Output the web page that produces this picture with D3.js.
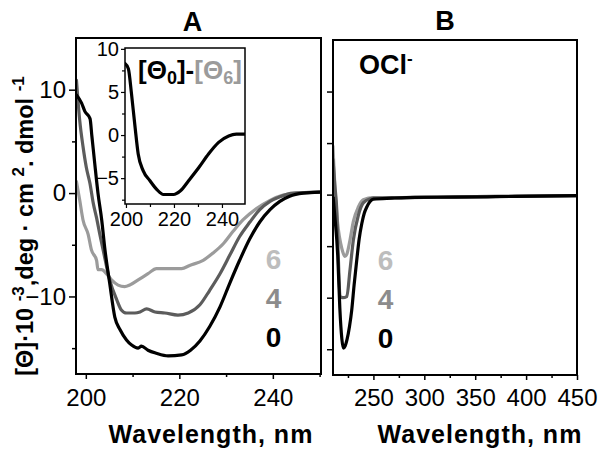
<!DOCTYPE html>
<html>
<head>
<meta charset="utf-8">
<script src="https://cdn.jsdelivr.net/npm/d3@7"></script>
<style>
  html, body { margin: 0; padding: 0; background: #fff; }
  svg { display: block; }
  text { font-family: "Liberation Sans", Arial, Helvetica, sans-serif; }
</style>
</head>
<body>
<svg id="chart" width="604" height="458"></svg>
<script>
// ---------- DATA ----------
// Panel A : CD spectra (x = wavelength nm, y = [Θ]·10^-3)
const seriesNames = ["6", "4", "0"];
const a6_wl  = [198, 198.7, 199.4, 200.5, 201.2, 202.3, 202.6, 203.4, 204.4, 205.5, 206.9, 208.3, 209.4, 211.2, 213.3, 215.1, 217.6, 220.5, 222.2, 225.1, 227.2, 229.4, 231.5, 233.6, 236.5, 239.4, 242.2, 245, 250];
const a6_val = [1.1, -0.7, -2.6, -4.0, -5.5, -6.5, -7.4, -7.4, -7.8, -8.4, -8.9, -9.05, -8.9, -8.4, -7.8, -7.3, -7.3, -7.3, -7.0, -6.5, -5.8, -4.9, -3.7, -2.6, -1.5, -0.7, -0.2, 0.0, 0.1];
const a4_wl  = [198, 198.7, 199.4, 200.1, 200.9, 201.6, 202.3, 203.0, 203.7, 205.1, 206.6, 207.6, 208.7, 210.5, 211.6, 213.0, 214.8, 216.9, 219.7, 221.9, 224.4, 226.5, 228.7, 230.8, 232.9, 235.1, 237.2, 239.4, 241.5, 244.3, 250];
const a4_val = [10.9, 7.0, 4.5, 2.5, 0.9, -1.0, -2.4, -4.0, -5.5, -8.4, -10.3, -11.3, -11.6, -11.6, -11.5, -11.2, -11.5, -11.6, -11.8, -11.6, -10.8, -9.4, -7.8, -6.0, -4.2, -2.8, -1.6, -0.8, -0.36, 0.0, 0.1];
const a0_wl  = [198, 199.1, 199.8, 200.9, 201.3, 201.9, 202.6, 203.4, 204.1, 205.1, 206.2, 207.3, 208.7, 209.8, 211.2, 211.9, 213.3, 215.1, 217.6, 220.5, 222.4, 224.4, 226.5, 228.7, 230.8, 232.9, 235.1, 237.2, 239.4, 241.5, 243.6, 246.5, 250];
const a0_val = [9.5, 8.7, 7.9, 7.2, 5.5, 2.9, 0.0, -2.6, -5.5, -8.7, -12.0, -13.2, -14.2, -14.7, -15.0, -14.8, -15.2, -15.5, -15.75, -15.65, -15.2, -14.3, -12.9, -11.0, -8.7, -6.5, -4.4, -2.8, -1.6, -0.8, -0.3, 0.0, 0.1];

// Inset : difference spectrum [Θ0]-[Θ6]
const diff_wl  = [199.6, 201, 202.3, 203.8, 205.1, 207.2, 210, 212.8, 215.6, 219.8, 222.6, 226.1, 230.3, 234.4, 238.6, 242.8, 246, 249.6];
const diff_val = [8.3, 7.7, 4.8, 0.9, -2.2, -4.15, -5.3, -6.3, -6.9, -6.9, -6.5, -5.3, -3.8, -2.2, -0.85, -0.1, 0.1, 0.1];

// Panel B : OCl- treated
const b6_wl  = [210.2, 212.3, 215.6, 218, 220, 222, 223.8, 227, 230.3, 235.2, 240, 250, 270, 300, 350, 400, 450];
const b6_val = [4.7, 0.5, -3.4, -4.8, -5.6, -6.0, -5.8, -4.4, -2.6, -1.2, -0.5, -0.3, -0.3, -0.25, -0.2, -0.15, -0.1];
const b4_wl  = [210.3, 212, 214, 215.6, 217.2, 220, 223.8, 227, 230.3, 235.2, 240, 246.8, 250, 270, 300, 350, 400, 450];
const b4_val = [3.4, 1.0, -1.5, -6.3, -9.9, -10.0, -9.9, -7.3, -4.4, -2.0, -0.8, -0.4, -0.35, -0.32, -0.26, -0.2, -0.15, -0.1];
const b0_wl  = [210.5, 212, 215, 217, 219, 220.5, 222.2, 224, 226.5, 228.7, 231, 233.7, 236, 238.6, 241, 243.5, 246.5, 250, 268, 291, 330, 370, 410, 450];
const b0_val = [-0.3, -2.0, -6.0, -11.0, -14.0, -14.9, -14.7, -14.1, -12.8, -11.2, -8.8, -6.3, -4.3, -2.8, -1.8, -1.2, -0.7, -0.44, -0.34, -0.26, -0.25, -0.2, -0.15, -0.1];

// Tick labels
const yTicksMain = [-10, 0, 10];
const yTicksMinor = [-15, -5, 5];
const xTicksA = [200, 220, 240];
const xTicksAMinor = [210, 230, 250];
const xTicksB = [250, 300, 350, 400, 450];
const xTicksBMinor = [225, 275, 325, 375, 425];
const insetYTicks = [-5, 0, 5, 10];
const insetYMinor = [-7.5, -2.5, 2.5, 7.5];
const insetXTicks = [200, 220, 240];
const insetXMinor = [210, 230];

// ---------- STYLES ----------
const colors = { "6": "#9b9b9b", "4": "#5c5c5c", "0": "#000000" };
const labelColors = { "6": "#bdbdbd", "4": "#8c8c8c", "0": "#000000" };

const svg = d3.select("#chart");
const zip = (xs, ys) => xs.map((x, i) => ({ x, y: ys[i] }));

// ---------- SCALES ----------
const A = { l: 76, r: 321, t: 38, b: 374 };
const B = { l: 333, r: 577, t: 40, b: 375 };
const I = { l: 125, r: 245, t: 48, b: 204 };

const xA = d3.scaleLinear().domain([197.9, 250.3]).range([A.l, A.r]);
const yA = d3.scaleLinear().domain([-17.5, 15]).range([A.b, A.t]);
const xB = d3.scaleLinear().domain([210.3, 450]).range([B.l, B.r]);
const yB = d3.scaleLinear().domain([-17.5, 15]).range([B.b, B.t]);
const xI = d3.scaleLinear().domain([199.6, 249.6]).range([I.l, I.r]);
const yI = d3.scaleLinear().domain([-8, 10.1]).range([I.b, I.t]);

const defs = svg.append("defs");
function clip(id, box) {
  defs.append("clipPath").attr("id", id).append("rect")
    .attr("x", box.l).attr("y", box.t).attr("width", box.r - box.l).attr("height", box.b - box.t);
}
clip("clipA", A); clip("clipB", B); clip("clipI", I);

function drawLine(g, data, xs, ys, color, width, clipId) {
  const line = d3.line().x(d => xs(d.x)).y(d => ys(d.y)).curve(d3.curveMonotoneX);
  g.append("path").datum(data)
    .attr("d", line)
    .attr("fill", "none")
    .attr("stroke", color)
    .attr("stroke-width", width)
    .attr("stroke-linejoin", "round")
    .attr("stroke-linecap", "round")
    .attr("clip-path", `url(#${clipId})`);
}

function styleAxis(g, fontSize) {
  g.select(".domain").remove();
  g.selectAll("line").attr("stroke", "#000").attr("stroke-width", 1.5);
  g.selectAll("text").attr("font-size", fontSize).attr("fill", "#000")
    .attr("font-family", '"Liberation Sans", Arial, sans-serif');
}

// ---------- PANEL A ----------
const gA = svg.append("g");
drawLine(gA, zip(a6_wl, a6_val), xA, yA, colors["6"], 3.2, "clipA");
drawLine(gA, zip(a4_wl, a4_val), xA, yA, colors["4"], 3.2, "clipA");
drawLine(gA, zip(a0_wl, a0_val), xA, yA, colors["0"], 3.2, "clipA");

// axes A
gA.append("g").attr("transform", `translate(${A.l},0)`)
  .call(d3.axisLeft(yA).tickValues(yTicksMain).tickSize(7).tickPadding(3).tickFormat(d3.format("d")))
  .call(g => styleAxis(g, 24));
gA.append("g").attr("transform", `translate(${A.l},0)`)
  .call(d3.axisLeft(yA).tickValues(yTicksMinor).tickSize(4).tickFormat(""))
  .call(g => styleAxis(g, 24));
gA.append("g").attr("transform", `translate(0,${A.b})`)
  .call(d3.axisBottom(xA).tickValues(xTicksA).tickSize(5).tickPadding(10).tickFormat(d3.format("d")))
  .call(g => styleAxis(g, 24));
gA.append("g").attr("transform", `translate(0,${A.b})`)
  .call(d3.axisBottom(xA).tickValues(xTicksAMinor).tickSize(3).tickFormat(""))
  .call(g => styleAxis(g, 24));

gA.append("rect").attr("x", A.l).attr("y", A.t).attr("width", A.r - A.l).attr("height", A.b - A.t)
  .attr("fill", "none").attr("stroke", "#000").attr("stroke-width", 2);

// ---------- INSET ----------
const gI = svg.append("g");
gI.append("rect").attr("x", I.l).attr("y", I.t).attr("width", I.r - I.l).attr("height", I.b - I.t)
  .attr("fill", "#fff");
drawLine(gI, zip(diff_wl, diff_val), xI, yI, "#000", 3.2, "clipI");
gI.append("g").attr("transform", `translate(${I.l},0)`)
  .call(d3.axisLeft(yI).tickValues(insetYTicks).tickSize(4).tickPadding(2).tickFormat(d3.format("d")))
  .call(g => styleAxis(g, 20));
gI.append("g").attr("transform", `translate(${I.l},0)`)
  .call(d3.axisLeft(yI).tickValues(insetYMinor).tickSize(3).tickFormat(""))
  .call(g => styleAxis(g, 20));
gI.append("g").attr("transform", `translate(0,${I.b})`)
  .call(d3.axisBottom(xI).tickValues(insetXTicks).tickSize(4).tickPadding(4).tickFormat(d3.format("d")))
  .call(g => styleAxis(g, 20));
gI.append("g").attr("transform", `translate(0,${I.b})`)
  .call(d3.axisBottom(xI).tickValues(insetXMinor).tickSize(3).tickFormat(""))
  .call(g => styleAxis(g, 20));
gI.selectAll("line").attr("stroke-width", 1.2);
gI.append("rect").attr("x", I.l).attr("y", I.t).attr("width", I.r - I.l).attr("height", I.b - I.t)
  .attr("fill", "none").attr("stroke", "#000").attr("stroke-width", 1.5);

// inset label [Θ0]-[Θ6]
const il = gI.append("text").attr("x", 138).attr("y", 79)
  .attr("font-size", 26).attr("font-weight", "bold").attr("fill", "#000");
il.append("tspan").text("[Θ");
il.append("tspan").attr("font-size", 18).attr("dy", 5).text("0");
il.append("tspan").attr("dy", -5).text("]-");
il.append("tspan").attr("fill", "#9b9b9b").text("[Θ");
il.append("tspan").attr("fill", "#9b9b9b").attr("font-size", 18).attr("dy", 5).text("6");
il.append("tspan").attr("fill", "#9b9b9b").attr("dy", -5).text("]");

// ---------- PANEL B ----------
const gB = svg.append("g");
drawLine(gB, zip(b6_wl, b6_val), xB, yB, colors["6"], 3.2, "clipB");
drawLine(gB, zip(b4_wl, b4_val), xB, yB, colors["4"], 3.2, "clipB");
drawLine(gB, zip(b0_wl, b0_val), xB, yB, colors["0"], 3.2, "clipB");

gB.append("g").attr("transform", `translate(${B.l},0)`)
  .call(d3.axisLeft(yB).tickValues(yTicksMain.concat(yTicksMinor)).tickSize(6).tickFormat(""))
  .call(g => styleAxis(g, 24));
gB.append("g").attr("transform", `translate(0,${B.b})`)
  .call(d3.axisBottom(xB).tickValues(xTicksB).tickSize(5).tickPadding(9).tickFormat(d3.format("d")))
  .call(g => styleAxis(g, 24));
gB.append("g").attr("transform", `translate(0,${B.b})`)
  .call(d3.axisBottom(xB).tickValues(xTicksBMinor).tickSize(3).tickFormat(""))
  .call(g => styleAxis(g, 24));
gB.append("rect").attr("x", B.l).attr("y", B.t).attr("width", B.r - B.l).attr("height", B.b - B.t)
  .attr("fill", "none").attr("stroke", "#000").attr("stroke-width", 2);

// OCl- label
const ocl = gB.append("text").attr("x", 359).attr("y", 74)
  .attr("font-size", 27).attr("font-weight", "bold").attr("fill", "#000");
ocl.append("tspan").text("OCl");
ocl.append("tspan").attr("font-size", 17).attr("dy", -10).text("-");

// ---------- LEGEND NUMBERS ----------
const legendY = { "6": 269, "4": 308, "0": 347 };
seriesNames.forEach(n => {
  svg.append("text").attr("x", 273.5).attr("y", legendY[n]).attr("text-anchor", "middle")
    .attr("font-size", 28).attr("font-weight", "bold").attr("fill", labelColors[n]).text(n);
  svg.append("text").attr("x", 385.5).attr("y", legendY[n] + 1).attr("text-anchor", "middle")
    .attr("font-size", 28).attr("font-weight", "bold").attr("fill", labelColors[n]).text(n);
});

// ---------- TITLES ----------
svg.append("text").attr("x", 192.5).attr("y", 31).attr("text-anchor", "middle")
  .attr("font-size", 27).attr("font-weight", "bold").text("A");
svg.append("text").attr("x", 445).attr("y", 30).attr("text-anchor", "middle")
  .attr("font-size", 27).attr("font-weight", "bold").text("B");

svg.append("text").attr("x", 211).attr("y", 443).attr("text-anchor", "middle")
  .attr("font-size", 25).attr("font-weight", "bold").attr("letter-spacing", 1).text("Wavelength, nm");
svg.append("text").attr("x", 480).attr("y", 443).attr("text-anchor", "middle")
  .attr("font-size", 25).attr("font-weight", "bold").attr("letter-spacing", 1).text("Wavelength, nm");

// y label
const yl = svg.append("text").attr("transform", "translate(33,226) rotate(-90)")
  .attr("text-anchor", "middle").attr("font-size", 23.5).attr("font-weight", "bold").attr("fill", "#000");
yl.append("tspan").text("[Θ]·10 ");
yl.append("tspan").attr("font-size", 17).attr("dy", -9).text("-3");
yl.append("tspan").attr("dy", 11).text(",");
yl.append("tspan").attr("dy", -2).text("deg · cm ");
yl.append("tspan").attr("font-size", 17).attr("dy", -9).text("2");
yl.append("tspan").attr("dy", 9).text(". dmol ");
yl.append("tspan").attr("font-size", 17).attr("dy", -9).text("-1");
</script>
</body>
</html>
